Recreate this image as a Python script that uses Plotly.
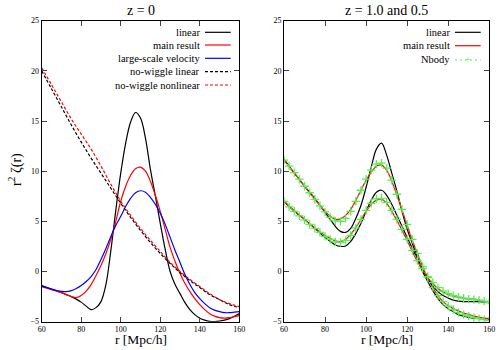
import plotly.graph_objects as go

# separation grid [Mpc/h]
r_fine = [60 + 2.5 * i for i in range(41)]
r_coarse = [60 + 5 * i for i in range(21)]

# ---- z = 0 panel ----
lin_z0 = [-1.4, -1.58, -1.75, -1.92, -2.1, -2.3, -2.5, -2.75, -3.05, -3.45, -3.8, -3.6,
          -3.0, -1.3, 2.1, 6.1, 9.8, 12.8, 14.9, 15.85, 15.3, 13.3, 10.2, 7.55, 4.8, 2.2,
          0.0, -1.3, -2.2, -3.1, -3.8, -4.3, -4.65, -4.85, -4.97, -5.0, -4.95, -4.85, -4.7,
          -4.45, -4.2]
main_z0 = [-1.5, -1.65, -1.8, -1.95, -2.1, -2.3, -2.5, -2.6, -2.4, -1.95, -1.3, -0.4,
           0.6, 1.8, 3.2, 5.0, 7.0, 8.5, 9.6, 10.25, 10.4, 10.0, 9.0, 7.6, 6.0, 4.2,
           2.4, 1.0, -0.2, -1.2, -2.0, -2.7, -3.3, -3.8, -4.2, -4.45, -4.6, -4.65, -4.6,
           -4.5, -4.4]
vel_z0 = [-1.45, -1.6, -1.75, -1.9, -1.97, -2.0, -1.9, -1.7, -1.4, -1.0, -0.5, 0.2,
          1.2, 2.3, 3.5, 4.6, 5.5, 6.5, 7.3, 7.85, 8.05, 7.9, 7.4, 6.7, 5.8, 4.7,
          3.4, 2.1, 0.9, -0.3, -1.3, -2.1, -2.7, -3.2, -3.6, -3.85, -4.0, -4.1, -4.1,
          -4.05, -4.0]
nw_lin_z0 = [20.0, 18.2, 16.4, 14.6, 12.9, 11.3, 9.8, 8.3, 6.8, 5.4, 4.1, 2.9, 1.8,
             0.8, -0.1, -0.9, -1.6, -2.3, -2.8, -3.3, -3.6]
nw_nl_z0 = [20.3, 18.6, 16.9, 15.2, 13.7, 12.2, 10.5, 8.7, 7.0, 5.6, 4.3, 3.1, 2.0,
            0.9, 0.0, -0.8, -1.5, -2.2, -2.8, -3.2, -3.5]

# ---- z = 0.5 and 1.0 panel ----
lin_z05 = [11.2, 10.5, 9.8, 9.2, 8.5, 7.9, 7.3, 6.6, 5.9, 5.2, 4.5, 4.0, 3.9, 4.3,
           5.3, 6.6, 8.4, 10.4, 12.2, 12.8, 11.6, 9.8, 8.0, 6.0, 4.2, 2.8, 1.4, 0.0,
           -1.0, -1.9, -2.7, -3.3, -3.7, -4.0, -4.3, -4.45, -4.55, -4.65, -4.7, -4.75, -4.8]
main_z05 = [11.1, 10.45, 9.8, 9.15, 8.5, 7.85, 7.2, 6.6, 6.0, 5.5, 5.2, 5.25, 5.6, 6.2,
            7.1, 8.1, 9.1, 9.9, 10.5, 10.6, 10.1, 9.0, 7.6, 6.1, 4.6, 3.1, 1.8, 0.5,
            -0.6, -1.6, -2.4, -3.0, -3.4, -3.7, -3.95, -4.15, -4.3, -4.45, -4.55, -4.65, -4.7]
nbody_z05 = [11.1, 10.5, 9.85, 9.2, 8.5, 7.85, 7.2, 6.55, 5.95, 5.4, 5.05, 5.0, 5.3, 6.0,
             7.0, 8.1, 9.2, 10.1, 10.7, 10.8, 10.3, 9.1, 7.7, 6.2, 4.7, 3.2, 1.8, 0.5,
             -0.6, -1.6, -2.4, -3.0, -3.45, -3.8, -4.1, -4.3, -4.45, -4.6, -4.7, -4.8, -4.9]
lin_z1 = [7.0, 6.5, 6.05, 5.6, 5.2, 4.75, 4.3, 3.85, 3.4, 3.0, 2.65, 2.5, 2.55, 3.0,
          3.8, 4.8, 6.0, 7.1, 7.9, 8.1, 7.6, 6.7, 5.6, 4.5, 3.4, 2.3, 1.3, 0.2,
          -0.7, -1.45, -2.0, -2.4, -2.65, -2.85, -2.95, -3.0, -3.0, -3.0, -3.0, -3.05, -3.1]
main_z1 = [7.0, 6.5, 6.05, 5.6, 5.2, 4.75, 4.35, 3.95, 3.6, 3.3, 3.05, 3.0, 3.2, 3.7,
           4.4, 5.2, 6.0, 6.7, 7.1, 7.2, 6.8, 6.0, 5.1, 4.1, 3.1, 2.0, 1.0, 0.2,
           -0.6, -1.2, -1.7, -2.05, -2.3, -2.45, -2.55, -2.65, -2.75, -2.75, -2.85, -3.0, -3.1]
nbody_z1 = [7.0, 6.45, 6.0, 5.55, 5.15, 4.7, 4.3, 3.9, 3.5, 3.2, 2.95, 2.9, 3.1, 3.6,
            4.35, 5.2, 6.1, 6.8, 7.25, 7.3, 6.9, 6.1, 5.2, 4.2, 3.2, 2.1, 1.1, 0.3,
            -0.5, -1.1, -1.6, -1.95, -2.2, -2.4, -2.55, -2.65, -2.75, -2.8, -2.85, -2.95, -3.1]

FONT = "Liberation Serif"
BLACK, RED, BLUE, GREEN = "#000000", "#ff0000", "#0000ff", "#55ee55"

fig = go.Figure()


def line(x, y, color, axis, dash="solid"):
    fig.add_trace(go.Scatter(x=x, y=y, mode="lines", line_shape="spline",
                             line=dict(color=color, width=1.2, dash=dash),
                             xaxis="x" + axis, yaxis="y" + axis, showlegend=False,
                             hoverinfo="skip"))


line(r_fine, lin_z0, BLACK, "")
line(r_fine, main_z0, RED, "")
line(r_fine, vel_z0, BLUE, "")
line(r_coarse, nw_lin_z0, BLACK, "", "3px,2px")
line(r_coarse, nw_nl_z0, RED, "", "3px,2px")

for lin, main, nb in [(lin_z05, main_z05, nbody_z05), (lin_z1, main_z1, nbody_z1)]:
    line(r_fine, lin, BLACK, "2")
    line(r_fine, main, RED, "2")
    fig.add_trace(go.Scatter(x=r_fine, y=nb, mode="lines+markers",
                             line=dict(color=GREEN, width=1, dash="2px,3px"),
                             marker=dict(symbol="cross-thin", size=6,
                                         line=dict(color=GREEN, width=1.3)),
                             xaxis="x2", yaxis="y2", showlegend=False, hoverinfo="skip"))

ax = dict(range=[60, 160], dtick=20, tick0=60, ticks="inside", ticklen=5,
          mirror="allticks", showline=True, linecolor="black", linewidth=1,
          showgrid=False, zeroline=False, automargin=False,
          tickfont=dict(family=FONT, size=8, color="black"))
ay = dict(range=[-5, 25], dtick=5, ticks="inside", ticklen=5, mirror="allticks",
          showline=True, linecolor="black", linewidth=1, showgrid=False, zeroline=False,
          automargin=False, tickfont=dict(family=FONT, size=8, color="black"))

fig.update_layout(
    width=500, height=350, autosize=False, margin=dict(l=0, r=0, t=0, b=0, pad=0),
    paper_bgcolor="white", plot_bgcolor="white",
    font=dict(family=FONT, color="black"),
    xaxis=dict(ax, domain=[0.0834, 0.4786], anchor="y"),
    yaxis=dict(ay, domain=[0.0809, 0.9409], anchor="x"),
    xaxis2=dict(ax, domain=[0.568, 0.9786], anchor="y2"),
    yaxis2=dict(ay, domain=[0.0809, 0.9409], anchor="x2"),
)

# titles and axis labels
texts = [
    (0.281, 0.969, "z = 0", 14, 0),
    (0.773, 0.969, "z = 1.0 and 0.5", 14, 0),
    (0.281, 0.029, "r [Mpc/h]", 13.5, 0),
    (0.773, 0.029, "r [Mpc/h]", 13.5, 0),
    (0.03, 0.514, "r<sup>2</sup> ζ(r)", 14, -90),
]
for x, y, t, s, ang in texts:
    fig.add_annotation(x=x, y=y, xref="paper", yref="paper", text=t, showarrow=False,
                       textangle=ang, yanchor="middle", xanchor="center",
                       font=dict(family=FONT, size=s, color="black"))

# gnuplot-style keys: text right aligned, sample on the right
left_key = [("linear", BLACK, "solid"), ("main result", RED, "solid"),
            ("large-scale velocity", BLUE, "solid"), ("no-wiggle linear", BLACK, "3px,2px"),
            ("no-wiggle nonlinear", RED, "3px,2px")]
right_key = [("linear", BLACK, "solid"), ("main result", RED, "solid"),
             ("Nbody", GREEN, "2px,3px")]


def draw_key(entries, xt, x0, x1, ys):
    for (name, color, dash), y in zip(entries, ys):
        fig.add_annotation(x=xt, y=y, xref="paper", yref="paper", text=name,
                           showarrow=False, xanchor="right", yanchor="middle",
                           font=dict(family=FONT, size=10.5, color="black"))
        fig.add_shape(type="line", xref="paper", yref="paper", x0=x0, x1=x1, y0=y, y1=y,
                      line=dict(color=color, width=1.2, dash=dash))
        if name == "Nbody":
            fig.add_annotation(x=(x0 + x1) / 2, y=y, xref="paper", yref="paper", text="+",
                               showarrow=False, xanchor="center", yanchor="middle",
                               font=dict(family=FONT, size=10, color=color))


draw_key(left_key, 0.4034, 0.41, 0.4614, [0.9077, 0.8714, 0.8334, 0.7951, 0.7571])
draw_key(right_key, 0.9034, 0.91, 0.9614, [0.9077, 0.8694, 0.8286])

fig.write_html("out.html", config={"displayModeBar": False, "responsive": False},
               post_script="document.body.style.margin='0';")
